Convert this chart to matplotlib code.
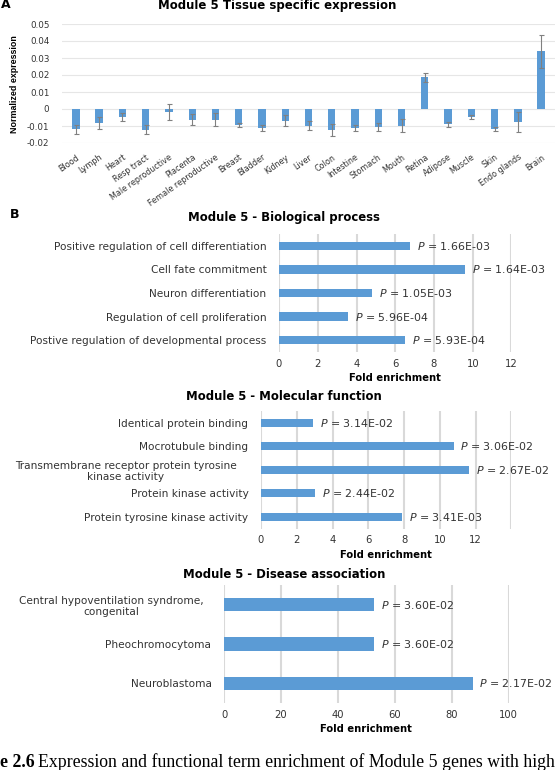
import matplotlib
matplotlib.use("Agg")
from matplotlib import pyplot as plt
from matplotlib.transforms import ScaledTranslation

# Panel A - tissue specific expression
tissues = ["Blood", "Lymph", "Heart", "Resp tract", "Male reproductive", "Placenta",
           "Female reproductive", "Breast", "Bladder", "Kidney", "Liver", "Colon",
           "Intestine", "Stomach", "Mouth", "Retina", "Adipose", "Muscle", "Skin",
           "Endo glands", "Brain"]
expression = [-0.0119, -0.0082, -0.0047, -0.0121, -0.0015, -0.0063, -0.0063, -0.0094,
              -0.0112, -0.0068, -0.0098, -0.0125, -0.0113, -0.0106, -0.0098, 0.0186,
              -0.0090, -0.0047, -0.0117, -0.0078, 0.0339]
expression_err = [0.0027, 0.0033, 0.0023, 0.0028, 0.0047, 0.0033, 0.0037, 0.0013,
                  0.0018, 0.0031, 0.0027, 0.0035, 0.0018, 0.0023, 0.0038, 0.0027,
                  0.0016, 0.0012, 0.0012, 0.0059, 0.0099]

# Panel B - enrichment (top to bottom)
bio_terms = ["Positive regulation of cell differentiation", "Cell fate commitment",
             "Neuron differentiation", "Regulation of cell proliferation",
             "Postive regulation of developmental process"]
bio_fold = [6.78, 9.6, 4.82, 3.57, 6.5]
bio_p = ["1.66E-03", "1.64E-03", "1.05E-03", "5.96E-04", "5.93E-04"]

mol_terms = ["Identical protein binding", "Mocrotubule binding",
             "Transmembrane receptor protein tyrosine\nkinase activity",
             "Protein kinase activity", "Protein tyrosine kinase activity"]
mol_fold = [2.9, 10.76, 11.6, 3.02, 7.9]
mol_p = ["3.14E-02", "3.06E-02", "2.67E-02", "2.44E-02", "3.41E-03"]

dis_terms = ["Central hypoventilation syndrome,\ncongenital", "Pheochromocytoma",
             "Neuroblastoma"]
dis_fold = [52.7, 52.7, 87.3]
dis_p = ["3.60E-02", "3.60E-02", "2.17E-02"]

BLUE = "#5b9bd5"
GRID = "#d9d9d9"
W, H = 557, 770

fig = plt.figure(figsize=(W / 100, H / 100), dpi=100)


def px_axes(left, top, right, bottom):
    return fig.add_axes([left / W, 1 - bottom / H, (right - left) / W, (bottom - top) / H])


# ---- A ----
ax = px_axes(62, 24, 555, 143)
x = range(len(tissues))
ax.bar(x, expression, width=0.32, color=BLUE, yerr=expression_err,
       error_kw=dict(ecolor="#808080", elinewidth=0.8, capsize=1.8, capthick=0.8))
ax.set_xlim(-0.6, len(tissues) - 0.4)
ax.set_ylim(-0.02, 0.05)
ax.set_yticks([-0.02, -0.01, 0, 0.01, 0.02, 0.03, 0.04, 0.05],
              ["-0.02", "-0.01", "0", "0.01", "0.02", "0.03", "0.04", "0.05"])
ax.set_xticks(list(x), tissues, rotation=35, ha="right", rotation_mode="anchor")
ax.tick_params(axis="x", length=0, pad=7, labelsize=5.8, labelcolor="#333333")
ax.tick_params(axis="y", length=0, pad=9, labelsize=6.3, labelcolor="#333333")
ax.grid(axis="y", color="#e6e6e6", linewidth=0.8)
ax.set_axisbelow(True)
for s in ax.spines.values():
    s.set_visible(False)
fig.text(15 / W, 1 - 84 / H, "Normalized expression", rotation=90, ha="center", va="center",
         fontsize=6.4, fontweight="bold", family=["Liberation Sans", "DejaVu Sans"])
fig.text(277 / W, 1 - 6 / H, "Module 5 Tissue specific expression", ha="center", va="center",
         fontsize=8.5, fontweight="bold")
fig.text(1 / W, 1 - 5 / H, "A", ha="left", va="center", fontsize=9, fontweight="bold")


def enrichment(box, terms, fold, pvals, xmax, step, labelmax, title, title_y, height):
    ax = px_axes(*box)
    n = len(terms)
    ax.barh(range(n), fold, height=height, color=BLUE)
    for i, (v, p) in enumerate(zip(fold, pvals)):
        ax.annotate(r"$P$ = " + p, xy=(v, i), xytext=(5, 0), textcoords="offset points",
                    va="center", ha="left", fontsize=7.9, color="#333333")
    ax.set_ylim(n - 0.5, -0.5)
    ax.set_xlim(0, xmax)
    ticks = list(range(0, xmax + 1, step))
    ax.set_xticks(ticks, [str(t) if t <= labelmax else "" for t in ticks])
    ax.set_yticks(range(n), terms)
    for lab in ax.get_yticklabels():
        lab.set_multialignment("center")
    ax.tick_params(axis="y", length=0, pad=9, labelsize=7.6, labelcolor="#333333")
    ax.tick_params(axis="x", length=0, pad=5, labelsize=7.2, labelcolor="#333333")
    ax.grid(axis="x", color=GRID, linewidth=1.5)
    ax.set_axisbelow(True)
    for s in ax.spines.values():
        s.set_visible(False)
    ax.set_xlabel("Fold enrichment", fontsize=7.2, fontweight="bold", labelpad=3)
    fig.text(284 / W, 1 - title_y / H, title,
             ha="center", va="center", fontsize=8.4, fontweight="bold")
    return ax


axb = enrichment((279, 234, 511.5, 352), bio_terms, bio_fold, bio_p, 12, 2, 12,
                 "Module 5 - Biological process", 218, 0.35)
fig.text(10 / W, 1 - 214 / H, "B", ha="left", va="center", fontsize=9, fontweight="bold")

axc = enrichment((261, 411, 511.5, 528.5), mol_terms, mol_fold, mol_p, 14, 2, 12,
                 "Module 5 - Molecular function", 397, 0.35)
lab = axc.get_yticklabels()[2]
lab.set_transform(lab.get_transform() + ScaledTranslation(-12 / 100, 0, fig.dpi_scale_trans))

axd = enrichment((224, 585, 508.7, 703), dis_terms, dis_fold, dis_p, 100, 20, 100,
                 "Module 5 - Disease association", 574, 0.34)
lab = axd.get_yticklabels()[0]
lab.set_transform(lab.get_transform() + ScaledTranslation(-8 / 100, 0, fig.dpi_scale_trans))

# caption, cut at the page edge as in the source
fig.text(0, 1 - 767 / H, "e 2.6", ha="left", va="baseline", fontsize=12.8, fontweight="bold",
         family=["Liberation Serif", "DejaVu Serif"])
fig.text(38 / W, 1 - 767 / H, "Expression and functional term enrichment of Module 5 genes with high",
         ha="left", va="baseline", fontsize=12.8, family=["Liberation Serif", "DejaVu Serif"])

fig.savefig("out.png", dpi=100)
